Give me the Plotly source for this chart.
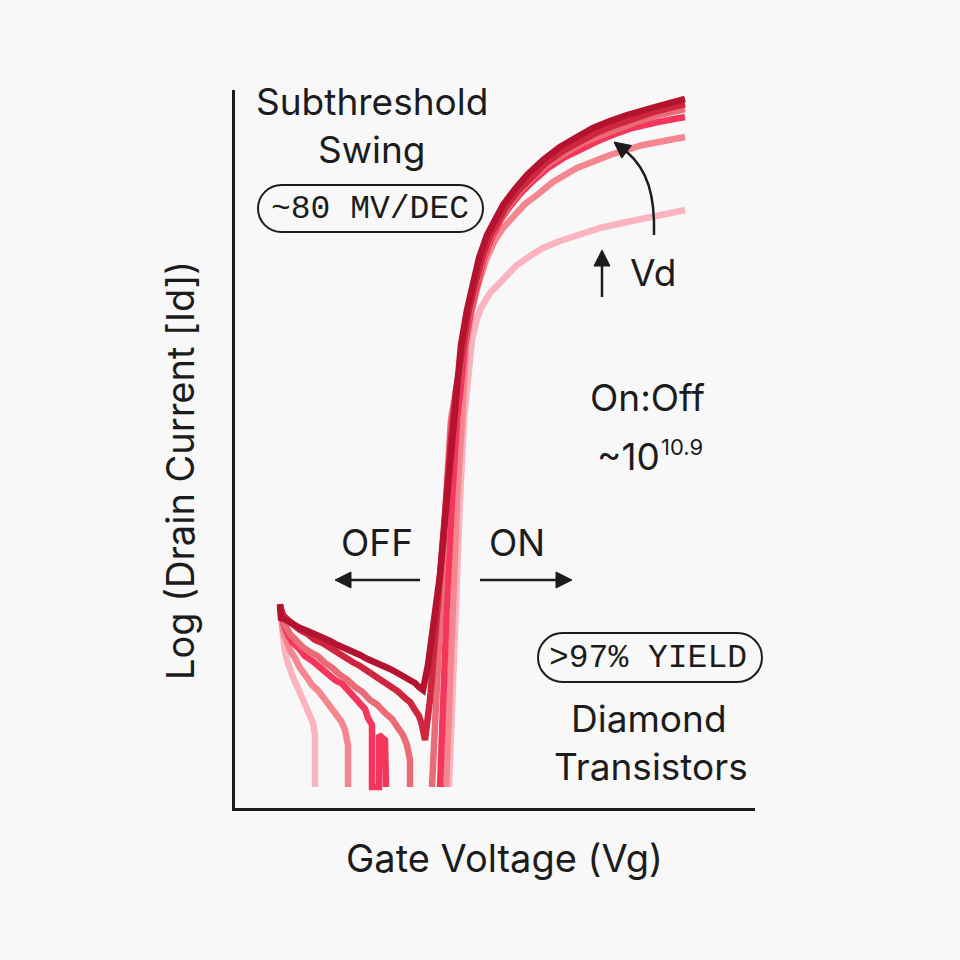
import plotly.graph_objects as go

# ---------------- data (Vg in V, log10 Id) ----------------
FLOOR = -15.58
vd_labels = ["Vd1", "Vd2", "Vd3", "Vd4", "Vd5", "Vd6"]

vg_off_vd1 = [-3.10, -3.08, -3.06, -3.01, -2.96, -2.89, -2.82, -2.74, -2.66, -2.58, -2.50, -2.44, -2.40, -2.40]
id_off_vd1 = [-11.96, -12.24, -12.54, -12.82, -13.04, -13.26, -13.44, -13.60, -13.80, -13.96, -14.14, -14.30, -14.54, -15.58]
vg_on_vd1 = [0.28, 0.34, 0.42, 0.50, 0.58, 0.66, 0.74, 0.82, 0.92, 1.10, 1.30, 1.64, 1.90, 2.16, 2.50, 2.84, 3.30, 3.84, 4.40, 5.00]
id_on_vd1 = [-15.58, -13.84, -11.84, -9.84, -8.24, -7.24, -6.64, -6.28, -6.00, -5.70, -5.48, -5.14, -4.96, -4.80, -4.66, -4.54, -4.40, -4.28, -4.16, -4.04]

vg_off_vd2 = [-3.10, -3.07, -3.04, -2.97, -2.90, -2.80, -2.70, -2.58, -2.46, -2.33, -2.20, -2.08, -1.96, -1.88, -1.80, -1.74, -1.74]
id_off_vd2 = [-11.96, -12.22, -12.44, -12.66, -12.84, -13.00, -13.20, -13.36, -13.54, -13.66, -13.84, -13.98, -14.14, -14.26, -14.44, -14.74, -15.58]
vg_on_vd2 = [0.22, 0.28, 0.36, 0.44, 0.54, 0.58, 0.62, 0.74, 0.86, 1.02, 1.18, 1.36, 1.58, 1.80, 2.04, 2.36, 2.84, 3.50, 4.16, 4.60, 5.00]
id_on_vd2 = [-15.58, -13.84, -11.84, -9.84, -8.24, -7.54, -6.74, -6.04, -5.54, -5.04, -4.68, -4.40, -4.14, -3.92, -3.74, -3.48, -3.20, -2.94, -2.74, -2.64, -2.58]

vg_off_vd3 = [-3.10, -3.06, -3.02, -2.94, -2.86, -2.73, -2.60, -2.45, -2.30, -2.15, -2.00, -1.85, -1.70, -1.58, -1.46, -1.40, -1.34, -1.26, -1.26, -1.12, -1.12, -1.00, -0.98]
id_off_vd3 = [-11.96, -12.18, -12.34, -12.54, -12.68, -12.80, -12.96, -13.06, -13.20, -13.30, -13.44, -13.52, -13.68, -13.80, -13.94, -14.02, -14.20, -14.34, -15.58, -15.58, -14.54, -14.64, -15.58]
vg_on_vd3 = [0.10, 0.16, 0.24, 0.34, 0.44, 0.52, 0.60, 0.72, 0.84, 0.98, 1.14, 1.30, 1.46, 1.70, 1.94, 2.26, 2.60, 2.94, 3.26, 3.60, 3.94, 4.46, 5.00]
id_on_vd3 = [-15.58, -13.84, -11.84, -9.84, -8.24, -7.54, -6.74, -6.04, -5.54, -5.00, -4.58, -4.26, -4.02, -3.72, -3.48, -3.20, -2.98, -2.80, -2.66, -2.52, -2.40, -2.28, -2.18]

vg_off_vd4 = [-3.10, -3.05, -3.00, -2.90, -2.80, -2.65, -2.50, -2.35, -2.20, -2.05, -1.90, -1.75, -1.60, -1.45, -1.30, -1.15, -1.00, -0.86, -0.74, -0.64, -0.56, -0.50, -0.50]
id_off_vd4 = [-11.96, -12.16, -12.34, -12.52, -12.64, -12.78, -12.88, -12.96, -13.10, -13.20, -13.34, -13.44, -13.58, -13.68, -13.84, -13.94, -14.10, -14.22, -14.40, -14.54, -14.74, -15.04, -15.58]
vg_on_vd4 = [-0.06, 0.02, 0.12, 0.22, 0.32, 0.40, 0.58, 0.70, 0.82, 0.96, 1.12, 1.28, 1.44, 1.68, 1.92, 2.24, 2.58, 2.92, 3.24, 3.58, 3.92, 4.46, 5.00]
id_on_vd4 = [-15.58, -13.84, -11.84, -9.84, -8.24, -7.74, -6.74, -6.04, -5.54, -5.00, -4.56, -4.24, -4.00, -3.68, -3.44, -3.14, -2.92, -2.72, -2.58, -2.44, -2.32, -2.14, -2.02]

vg_off_vd5 = [-3.10, -3.04, -2.94, -2.82, -2.70, -2.55, -2.40, -2.25, -2.10, -1.95, -1.80, -1.65, -1.50, -1.35, -1.20, -1.05, -0.90, -0.75, -0.60, -0.50, -0.40, -0.32, -0.26, -0.20]
id_off_vd5 = [-11.96, -12.14, -12.24, -12.36, -12.44, -12.52, -12.64, -12.70, -12.80, -12.90, -12.98, -13.08, -13.16, -13.26, -13.36, -13.44, -13.56, -13.66, -13.80, -13.88, -14.04, -14.16, -14.34, -14.64]
vg_on_vd5 = [-0.10, 0.02, 0.12, 0.22, 0.32, 0.42, 0.56, 0.68, 0.80, 0.94, 1.10, 1.26, 1.42, 1.66, 1.90, 2.22, 2.56, 2.90, 3.22, 3.56, 3.90, 4.44, 5.00]
id_on_vd5 = [-13.84, -12.24, -11.04, -9.84, -8.64, -7.64, -6.74, -6.04, -5.54, -5.00, -4.56, -4.24, -3.98, -3.66, -3.40, -3.10, -2.86, -2.66, -2.50, -2.36, -2.24, -2.06, -1.92]

vg_off_vd6 = [-3.10, -3.08, -3.02, -2.90, -2.80, -2.70, -2.55, -2.40, -2.25, -2.10, -1.95, -1.80, -1.65, -1.50, -1.35, -1.20, -1.05, -0.90, -0.75, -0.60, -0.50, -0.40, -0.32, -0.24]
id_off_vd6 = [-11.92, -12.20, -12.22, -12.30, -12.34, -12.40, -12.46, -12.52, -12.60, -12.66, -12.74, -12.80, -12.88, -12.94, -13.02, -13.08, -13.16, -13.22, -13.30, -13.38, -13.44, -13.50, -13.58, -13.64]
vg_on_vd6 = [-0.14, -0.02, 0.10, 0.20, 0.30, 0.40, 0.52, 0.64, 0.74, 0.88, 1.04, 1.20, 1.36, 1.60, 1.84, 2.16, 2.50, 2.84, 3.16, 3.50, 3.84, 4.40, 5.00]
id_on_vd6 = [-13.14, -12.24, -11.34, -10.24, -9.04, -7.84, -6.74, -6.04, -5.54, -5.00, -4.54, -4.22, -3.94, -3.62, -3.34, -3.04, -2.78, -2.58, -2.40, -2.26, -2.14, -1.98, -1.82]

curves = [
    (vg_off_vd1, id_off_vd1, vg_on_vd1, id_on_vd1),
    (vg_off_vd2, id_off_vd2, vg_on_vd2, id_on_vd2),
    (vg_off_vd3, id_off_vd3, vg_on_vd3, id_on_vd3),
    (vg_off_vd4, id_off_vd4, vg_on_vd4, id_on_vd4),
    (vg_off_vd5, id_off_vd5, vg_on_vd5, id_on_vd5),
    (vg_off_vd6, id_off_vd6, vg_on_vd6, id_on_vd6),
]
colors = ["#f9b4c0", "#f4868f", "#f5365c", "#e96b76", "#cf2640", "#b3132e"]

# ---------------- layout helpers ----------------
W, H = 960, 960
L, R, T, B = 235, 755, 90, 808


def px(x):
    return (x - L) / (R - L)


def py(y):
    return (B - y) / (B - T)


fig = go.Figure()
for (xo, yo, xn, yn), c, name in zip(curves, colors, vd_labels):
    if yo[-1] == FLOOR:
        xs = xo + [None] + xn
        ys = yo + [None] + yn
    else:
        xs = xo + xn
        ys = yo + yn
    fig.add_trace(go.Scatter(x=xs, y=ys, mode="lines", name=name,
                             line=dict(color=c, width=6.5), connectgaps=False,
                             showlegend=False, hoverinfo="skip"))

TXT = "#1c1c1c"
SANS = "Inter"
MONO = "Liberation Mono"
ann = []
shapes = []


def text(x, y, s, size=37, font=SANS):
    ann.append(dict(x=px(x), y=py(y), xref="paper", yref="paper", text=s,
                    showarrow=False, xanchor="center", yanchor="middle",
                    font=dict(family=font, size=size, color=TXT)))


def P(x, y):
    return f"{px(x):.5f},{py(y):.5f}"


def head(xt, yt, dx, dy, hl=16, hw=8):
    n = (dx * dx + dy * dy) ** 0.5
    ux, uy = dx / n, dy / n
    bx, by = xt - hl * ux, yt - hl * uy
    nx, ny = -uy, ux
    shapes.append(dict(type="path", xref="paper", yref="paper",
                       path=f"M {P(xt, yt)} L {P(bx + hw * nx, by + hw * ny)} L {P(bx - hw * nx, by - hw * ny)} Z",
                       fillcolor=TXT, line=dict(color=TXT, width=1)))
    return bx, by


def arrow(xt, yt, xs, ys):
    bx, by = head(xt, yt, xt - xs, yt - ys)
    shapes.append(dict(type="path", xref="paper", yref="paper",
                       path=f"M {P(xs, ys)} L {P(bx, by)}",
                       line=dict(color=TXT, width=2.5)))


text(372, 101, "Subthreshold")
text(372, 149, "Swing")
text(370, 209, "~80 MV/DEC", size=33, font=MONO)
text(647, 397, "On:Off")
text(628, 456, "~10")
text(682, 447, "10.9", size=22)
text(377, 542, "OFF")
text(517, 542, "ON")
text(648, 658, ">97% YIELD", size=33, font=MONO)
text(649, 718, "Diamond")
text(651, 766, "Transistors")
text(653, 272, "Vd")
text(504, 858, "Gate Voltage (Vg)", size=38)
ann.append(dict(x=px(180), y=py(471), xref="paper", yref="paper", text="Log (Drain Current [Id])",
                showarrow=False, textangle=-90, xanchor="center", yanchor="middle",
                font=dict(family=SANS, size=38, color=TXT)))

arrow(335, 580, 420, 580)
arrow(572, 580, 480, 580)
arrow(602, 250, 602, 297)

# curved arrow
bx, by = head(614, 142, -18, -14)
cp = [(654, 235), (655, 196), (648, 170), (bx, by)]
shapes.append(dict(type="path", xref="paper", yref="paper",
                   path=f"M {P(*cp[0])} C {P(*cp[1])} {P(*cp[2])} {P(*cp[3])}",
                   line=dict(color=TXT, width=2.5)))


def pill(x0, y0, x1, y1):
    r = (y1 - y0) / 2
    k = 0.5523 * r
    yc = (y0 + y1) / 2
    pts = [
        ("M", [(x0 + r, y0)]),
        ("L", [(x1 - r, y0)]),
        ("C", [(x1 - r + k, y0), (x1, yc - k), (x1, yc)]),
        ("C", [(x1, yc + k), (x1 - r + k, y1), (x1 - r, y1)]),
        ("L", [(x0 + r, y1)]),
        ("C", [(x0 + r - k, y1), (x0, yc + k), (x0, yc)]),
        ("C", [(x0, yc - k), (x0 + r - k, y0), (x0 + r, y0)]),
    ]
    d = ""
    for cmd, ps in pts:
        d += cmd + " " + " ".join(P(a, b) for a, b in ps) + " "
    return dict(type="path", xref="paper", yref="paper", path=d + "Z",
                line=dict(color=TXT, width=2))


shapes += [pill(258, 185, 483, 232), pill(538, 633, 762, 682)]

fig.update_layout(
    width=W, height=H,
    margin=dict(l=L, r=W - R, t=T, b=H - B, pad=0),
    paper_bgcolor="#f8f8f8", plot_bgcolor="#f8f8f8",
    xaxis=dict(range=[-4, 6.4], showline=True, linecolor="#1c1c1c", linewidth=2.5,
               showgrid=False, zeroline=False, showticklabels=False, ticks="", fixedrange=True),
    yaxis=dict(range=[-16, -1.64], showline=True, linecolor="#1c1c1c", linewidth=2.5,
               showgrid=False, zeroline=False, showticklabels=False, ticks="", fixedrange=True),
    annotations=ann, shapes=shapes, showlegend=False,
)

fig.write_html("out.html", config={"displayModeBar": False},
               post_script="document.body.style.margin='0';document.body.style.background='#f8f8f8';")
